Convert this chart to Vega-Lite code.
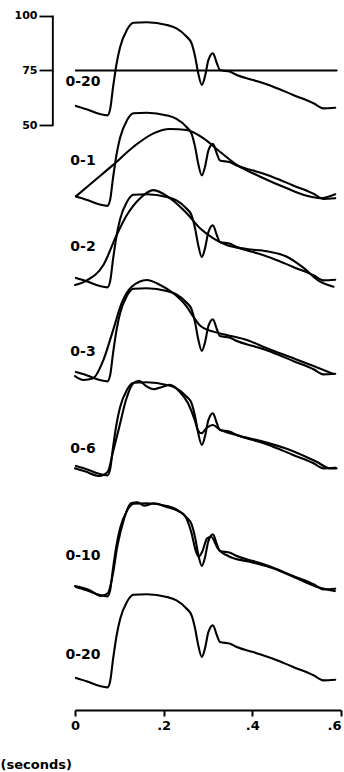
{
  "$schema": "https://vega.github.io/schema/vega-lite/v6.json",
  "width": 266,
  "height": 710,
  "autosize": {"type": "none"},
  "padding": {"left": 75, "top": 0, "right": 3, "bottom": 62},
  "background": "white",
  "config": {
    "view": {"stroke": null},
    "font": "DejaVu Sans",
    "axis": {
      "grid": false,
      "domainColor": "black", "tickColor": "black", "labelColor": "black", "titleColor": "black",
      "labelFont": "DejaVu Sans", "labelFontWeight": "bold", "titleFont": "DejaVu Sans", "titleFontWeight": "bold"
    },
    "axisX": {"domainWidth": 2, "tickWidth": 2, "tickSize": 6, "labelFontSize": 13, "labelPadding": 3, "labelFlush": false, "labelOverlap": false, "titleFontSize": 13},
    "axisY": {"domain": false, "tickWidth": 1.8, "tickSize": 14, "labelFontSize": 11, "labelPadding": 2},
    "line": {"color": "black", "strokeWidth": 2.1, "interpolate": "monotone", "strokeCap": "round", "strokeJoin": "round"},
    "text": {"font": "DejaVu Sans", "fontWeight": "bold", "fontSize": 14, "align": "center", "baseline": "middle", "color": "black"}
  },
  "datasets": {
    "wave": [
      {"t": 0.002, "p": 58.8}, {"t": 0.026, "p": 57.3}, {"t": 0.056, "p": 55.1}, {"t": 0.073, "p": 54.5},
      {"t": 0.079, "p": 57.0}, {"t": 0.086, "p": 67.6}, {"t": 0.094, "p": 78.3}, {"t": 0.102, "p": 85.8},
      {"t": 0.117, "p": 93.5}, {"t": 0.132, "p": 96.8}, {"t": 0.162, "p": 97.0}, {"t": 0.207, "p": 95.8},
      {"t": 0.229, "p": 94.2}, {"t": 0.252, "p": 90.4}, {"t": 0.263, "p": 87.4}, {"t": 0.271, "p": 81.3},
      {"t": 0.278, "p": 73.7}, {"t": 0.286, "p": 68.4}, {"t": 0.293, "p": 72.1}, {"t": 0.301, "p": 79.8},
      {"t": 0.311, "p": 82.8}, {"t": 0.320, "p": 78.3}, {"t": 0.327, "p": 75.2}, {"t": 0.350, "p": 74.4},
      {"t": 0.365, "p": 72.9}, {"t": 0.402, "p": 70.6}, {"t": 0.447, "p": 67.6}, {"t": 0.492, "p": 63.8},
      {"t": 0.538, "p": 60.0}, {"t": 0.560, "p": 57.7}, {"t": 0.587, "p": 58.0}
    ],
    "mean": [{"t": 0.002, "p": 75}, {"t": 0.590, "p": 75}],
    "fit": [
      {"n": 1, "t": 0.002, "p": 58.8}, {"n": 1, "t": 0.041, "p": 65.5}, {"n": 1, "t": 0.086, "p": 73.2},
      {"n": 1, "t": 0.132, "p": 81.5}, {"n": 1, "t": 0.177, "p": 87.6}, {"n": 1, "t": 0.214, "p": 89.6},
      {"n": 1, "t": 0.252, "p": 89.1}, {"n": 1, "t": 0.290, "p": 85.3}, {"n": 1, "t": 0.327, "p": 79.2},
      {"n": 1, "t": 0.365, "p": 73.2}, {"n": 1, "t": 0.418, "p": 67.8}, {"n": 1, "t": 0.478, "p": 62.5},
      {"n": 1, "t": 0.523, "p": 59.1}, {"n": 1, "t": 0.553, "p": 58.0}, {"n": 1, "t": 0.587, "p": 59.8},

      {"n": 2, "t": 0.000, "p": 55.6}, {"n": 2, "t": 0.026, "p": 57.6}, {"n": 2, "t": 0.064, "p": 64.7},
      {"n": 2, "t": 0.094, "p": 78.4}, {"n": 2, "t": 0.117, "p": 87.5}, {"n": 2, "t": 0.147, "p": 95.2},
      {"n": 2, "t": 0.177, "p": 98.9}, {"n": 2, "t": 0.214, "p": 95.2}, {"n": 2, "t": 0.252, "p": 88.3},
      {"n": 2, "t": 0.282, "p": 81.5}, {"n": 2, "t": 0.312, "p": 76.9}, {"n": 2, "t": 0.342, "p": 73.8},
      {"n": 2, "t": 0.387, "p": 72.0}, {"n": 2, "t": 0.433, "p": 71.0}, {"n": 2, "t": 0.478, "p": 68.5},
      {"n": 2, "t": 0.515, "p": 63.5}, {"n": 2, "t": 0.550, "p": 57.5}, {"n": 2, "t": 0.583, "p": 54.8},

      {"n": 3, "t": 0.000, "p": 56.9}, {"n": 3, "t": 0.019, "p": 55.1}, {"n": 3, "t": 0.041, "p": 55.9},
      {"n": 3, "t": 0.064, "p": 64.2}, {"n": 3, "t": 0.086, "p": 77.9}, {"n": 3, "t": 0.105, "p": 90.1},
      {"n": 3, "t": 0.128, "p": 97.7}, {"n": 3, "t": 0.162, "p": 100.8}, {"n": 3, "t": 0.192, "p": 98.5},
      {"n": 3, "t": 0.222, "p": 94.7}, {"n": 3, "t": 0.252, "p": 88.6}, {"n": 3, "t": 0.267, "p": 84.0},
      {"n": 3, "t": 0.282, "p": 80.0}, {"n": 3, "t": 0.312, "p": 77.2}, {"n": 3, "t": 0.342, "p": 75.7},
      {"n": 3, "t": 0.388, "p": 73.4}, {"n": 3, "t": 0.433, "p": 69.6}, {"n": 3, "t": 0.493, "p": 65.0},
      {"n": 3, "t": 0.538, "p": 61.5}, {"n": 3, "t": 0.583, "p": 57.9},

      {"n": 6, "t": 0.000, "p": 57.7}, {"n": 6, "t": 0.024, "p": 56.2}, {"n": 6, "t": 0.055, "p": 54.2},
      {"n": 6, "t": 0.074, "p": 56.2}, {"n": 6, "t": 0.085, "p": 64.6}, {"n": 6, "t": 0.100, "p": 76.7},
      {"n": 6, "t": 0.115, "p": 88.9}, {"n": 6, "t": 0.130, "p": 96.2}, {"n": 6, "t": 0.144, "p": 97.7},
      {"n": 6, "t": 0.160, "p": 95.3}, {"n": 6, "t": 0.177, "p": 93.8}, {"n": 6, "t": 0.198, "p": 95.0},
      {"n": 6, "t": 0.214, "p": 95.8}, {"n": 6, "t": 0.236, "p": 92.7}, {"n": 6, "t": 0.255, "p": 87.4},
      {"n": 6, "t": 0.270, "p": 79.8}, {"n": 6, "t": 0.277, "p": 75.2}, {"n": 6, "t": 0.285, "p": 73.7},
      {"n": 6, "t": 0.296, "p": 76.0}, {"n": 6, "t": 0.311, "p": 77.5}, {"n": 6, "t": 0.326, "p": 75.5},
      {"n": 6, "t": 0.364, "p": 72.9}, {"n": 6, "t": 0.424, "p": 69.9}, {"n": 6, "t": 0.485, "p": 66.1},
      {"n": 6, "t": 0.545, "p": 60.7}, {"n": 6, "t": 0.575, "p": 57.7}, {"n": 6, "t": 0.590, "p": 57.7},

      {"n": 10, "t": 0.000, "p": 59.2}, {"n": 10, "t": 0.032, "p": 57.4}, {"n": 10, "t": 0.058, "p": 54.7},
      {"n": 10, "t": 0.074, "p": 55.9}, {"n": 10, "t": 0.085, "p": 64.2}, {"n": 10, "t": 0.096, "p": 77.9},
      {"n": 10, "t": 0.111, "p": 90.1}, {"n": 10, "t": 0.126, "p": 97.0}, {"n": 10, "t": 0.141, "p": 97.4},
      {"n": 10, "t": 0.156, "p": 95.9}, {"n": 10, "t": 0.179, "p": 97.0}, {"n": 10, "t": 0.205, "p": 95.4},
      {"n": 10, "t": 0.232, "p": 93.5}, {"n": 10, "t": 0.247, "p": 91.6}, {"n": 10, "t": 0.262, "p": 84.0},
      {"n": 10, "t": 0.273, "p": 74.9}, {"n": 10, "t": 0.279, "p": 72.6}, {"n": 10, "t": 0.287, "p": 74.9},
      {"n": 10, "t": 0.298, "p": 81.0}, {"n": 10, "t": 0.307, "p": 81.7}, {"n": 10, "t": 0.322, "p": 76.4},
      {"n": 10, "t": 0.349, "p": 72.6}, {"n": 10, "t": 0.394, "p": 70.3}, {"n": 10, "t": 0.447, "p": 67.3},
      {"n": 10, "t": 0.500, "p": 62.7}, {"n": 10, "t": 0.545, "p": 58.9}, {"n": 10, "t": 0.586, "p": 56.9}
    ]
  },
  "layer": [
    {
      "layer": [
        {
          "data": {"name": "wave"},
          "mark": "line",
          "encoding": {
            "x": {
              "field": "t", "type": "quantitative",
              "scale": {"domain": [0, 0.6], "nice": false, "zero": false},
              "axis": {
                "values": [0, 0.2, 0.4, 0.6],
                "labelExpr": "datum.value == 0 ? '0' : '.' + round(datum.value * 10)",
                "labelAlign": {"condition": {"test": "datum.value > 0.55", "value": "right"}, "value": "center"},
                "title": "(seconds)",
                "titleAnchor": "start", "titleAlign": "left",
                "titleX": -75, "titleY": 48
              }
            },
            "y": {
              "field": "p", "type": "quantitative",
              "scale": {"domain": [-217.03, 107.17], "nice": false, "zero": false},
              "axis": {"values": [50, 75, 100], "offset": 22, "title": null}
            }
          }
        },
        {
          "data": {"name": "mean"},
          "mark": "line",
          "encoding": {
            "x": {"field": "t", "type": "quantitative"},
            "y": {"field": "p", "type": "quantitative"}
          }
        },
        {
          "data": {"values": [{"label": "bracket"}]},
          "mark": {"type": "rule", "color": "black", "strokeWidth": 1.9},
          "encoding": {
            "x": {"datum": -0.05, "type": "quantitative"},
            "y": {"datum": 50, "type": "quantitative"},
            "y2": {"datum": 100}
          }
        },
        {
          "data": {"values": [{"label": "0-20"}]},
          "mark": "text",
          "encoding": {
            "x": {"datum": 0.018, "type": "quantitative"},
            "y": {"datum": 69.7, "type": "quantitative"},
            "text": {"field": "label"}
          }
        }
      ]
    },
    {
      "layer": [
        {
          "data": {"name": "wave"}, "mark": "line",
          "encoding": {
            "x": {"field": "t", "type": "quantitative"},
            "y": {"field": "p", "type": "quantitative", "scale": {"domain": [-175.71, 148.49], "nice": false, "zero": false}, "axis": null}
          }
        },
        {
          "data": {"name": "fit"}, "transform": [{"filter": "datum.n == 1"}], "mark": "line",
          "encoding": {
            "x": {"field": "t", "type": "quantitative"},
            "y": {"field": "p", "type": "quantitative", "axis": null}
          }
        },
        {
          "data": {"values": [{"label": "0-1"}]}, "mark": "text",
          "encoding": {
            "x": {"datum": 0.018, "type": "quantitative"},
            "y": {"datum": 75.0, "type": "quantitative", "axis": null},
            "text": {"field": "label"}
          }
        }
      ]
    },
    {
      "layer": [
        {
          "data": {"name": "wave"}, "mark": "line",
          "encoding": {
            "x": {"field": "t", "type": "quantitative"},
            "y": {"field": "p", "type": "quantitative", "scale": {"domain": [-138.49, 185.71], "nice": false, "zero": false}, "axis": null}
          }
        },
        {
          "data": {"name": "fit"}, "transform": [{"filter": "datum.n == 2"}], "mark": "line",
          "encoding": {
            "x": {"field": "t", "type": "quantitative"},
            "y": {"field": "p", "type": "quantitative", "axis": null}
          }
        },
        {
          "data": {"values": [{"label": "0-2"}]}, "mark": "text",
          "encoding": {
            "x": {"datum": 0.018, "type": "quantitative"},
            "y": {"datum": 72.9, "type": "quantitative", "axis": null},
            "text": {"field": "label"}
          }
        }
      ]
    },
    {
      "layer": [
        {
          "data": {"name": "wave"}, "mark": "line",
          "encoding": {
            "x": {"field": "t", "type": "quantitative"},
            "y": {"field": "p", "type": "quantitative", "scale": {"domain": [-95.57, 228.63], "nice": false, "zero": false}, "axis": null}
          }
        },
        {
          "data": {"name": "fit"}, "transform": [{"filter": "datum.n == 3"}], "mark": "line",
          "encoding": {
            "x": {"field": "t", "type": "quantitative"},
            "y": {"field": "p", "type": "quantitative", "axis": null}
          }
        },
        {
          "data": {"values": [{"label": "0-3"}]}, "mark": "text",
          "encoding": {
            "x": {"datum": 0.018, "type": "quantitative"},
            "y": {"datum": 67.9, "type": "quantitative", "axis": null},
            "text": {"field": "label"}
          }
        }
      ]
    },
    {
      "layer": [
        {
          "data": {"name": "wave"}, "mark": "line",
          "encoding": {
            "x": {"field": "t", "type": "quantitative"},
            "y": {"field": "p", "type": "quantitative", "scale": {"domain": [-52.65, 271.55], "nice": false, "zero": false}, "axis": null}
          }
        },
        {
          "data": {"name": "fit"}, "transform": [{"filter": "datum.n == 6"}], "mark": "line",
          "encoding": {
            "x": {"field": "t", "type": "quantitative"},
            "y": {"field": "p", "type": "quantitative", "axis": null}
          }
        },
        {
          "data": {"values": [{"label": "0-6"}]}, "mark": "text",
          "encoding": {
            "x": {"datum": 0.018, "type": "quantitative"},
            "y": {"datum": 66.5, "type": "quantitative", "axis": null},
            "text": {"field": "label"}
          }
        }
      ]
    },
    {
      "layer": [
        {
          "data": {"name": "wave"}, "mark": "line",
          "encoding": {
            "x": {"field": "t", "type": "quantitative"},
            "y": {"field": "p", "type": "quantitative", "scale": {"domain": [2.6, 326.8], "nice": false, "zero": false}, "axis": null}
          }
        },
        {
          "data": {"name": "fit"}, "transform": [{"filter": "datum.n == 10"}], "mark": "line",
          "encoding": {
            "x": {"field": "t", "type": "quantitative"},
            "y": {"field": "p", "type": "quantitative", "axis": null}
          }
        },
        {
          "data": {"values": [{"label": "0-10"}]}, "mark": "text",
          "encoding": {
            "x": {"datum": 0.018, "type": "quantitative"},
            "y": {"datum": 72.9, "type": "quantitative", "axis": null},
            "text": {"field": "label"}
          }
        }
      ]
    },
    {
      "layer": [
        {
          "data": {"name": "wave"}, "mark": "line",
          "encoding": {
            "x": {"field": "t", "type": "quantitative"},
            "y": {"field": "p", "type": "quantitative", "scale": {"domain": [44.16, 368.36], "nice": false, "zero": false}, "axis": null}
          }
        },
        {
          "data": {"values": [{"label": "0-20"}]}, "mark": "text",
          "encoding": {
            "x": {"datum": 0.018, "type": "quantitative"},
            "y": {"datum": 69.3, "type": "quantitative", "axis": null},
            "text": {"field": "label"}
          }
        }
      ]
    }
  ],
  "resolve": {"scale": {"y": "independent"}, "axis": {"y": "independent"}}
}
